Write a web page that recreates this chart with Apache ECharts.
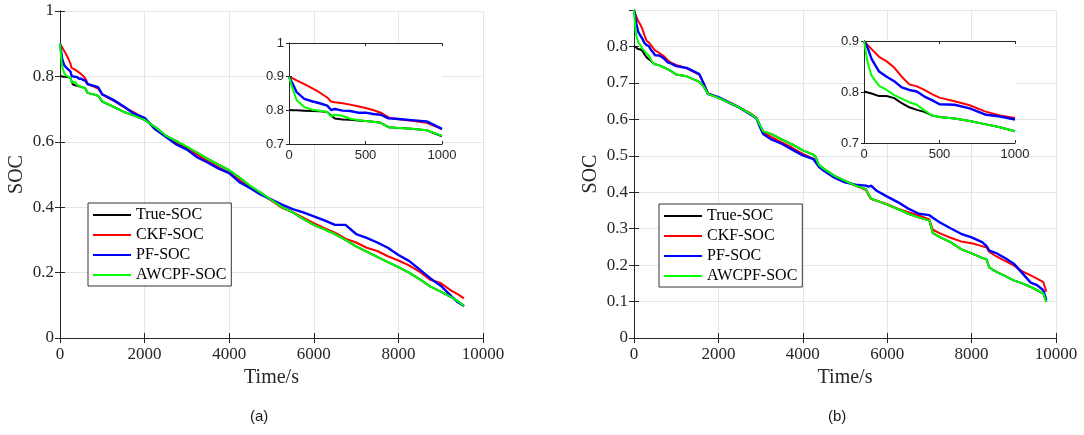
<!DOCTYPE html>
<html><head><meta charset="utf-8">
<script src="https://cdn.jsdelivr.net/npm/echarts@6/dist/echarts.min.js"></script>
<style>html,body{margin:0;padding:0;background:#fff}#c{width:1084px;height:435px}</style>
</head><body><div id="c"></div>
<script>
// ---------- data (a) ----------
const tA = [0,25,50,100,150,200,250,275,300,350,400,450,500,550,600,650,700,800,900,1000,
  1250,1500,1750,2000,2250,2500,2750,3000,3250,3500,3750,4000,4250,4500,4750,5000,5250,5500,5750,6000,
  6250,6500,6750,7000,7250,7500,7750,8000,8250,8500,8750,9000,9250,9400,9550];
const trueA = [.801,.800,.800,.799,.798,.797,.795,.785,.776,.773,.772,.770,.768,.766,.763,.750,.748,.745,.741,.723,
  .708,.692,.680,.667,.645,.619,.602,.584,.566,.547,.530,.513,.490,.464,.444,.422,.400,.384,.364,.346,
  .332,.318,.300,.280,.264,.248,.232,.217,.200,.180,.158,.142,.125,.113,.098];
const ckfA = [.900,.895,.889,.878,.866,.853,.838,.826,.824,.821,.817,.812,.807,.801,.793,.779,.774,.769,.763,.744,
  .727,.707,.690,.670,.642,.616,.597,.578,.560,.540,.522,.505,.482,.459,.441,.420,.398,.385,.368,.351,
  .336,.322,.304,.292,.276,.266,.250,.237,.222,.203,.178,.168,.145,.134,.121];
const pfA = [.900,.878,.854,.834,.827,.821,.814,.801,.804,.799,.798,.793,.793,.789,.787,.776,.775,.771,.767,.745,
  .729,.709,.686,.673,.638,.615,.592,.576,.552,.536,.518,.504,.476,.458,.438,.423,.408,.394,.384,.372,
  .360,.346,.346,.318,.306,.292,.276,.254,.236,.210,.183,.160,.128,.110,.098];
const awcpfA = [.900,.862,.830,.810,.802,.799,.795,.781,.787,.784,.775,.771,.768,.766,.763,.750,.748,.745,.741,.724,
  .708,.692,.680,.667,.645,.619,.602,.585,.566,.547,.530,.513,.490,.465,.444,.422,.400,.384,.364,.346,
  .332,.318,.300,.280,.264,.248,.232,.217,.200,.180,.158,.142,.125,.113,.098];
// ---------- data (b) ----------
const tB = [0,25,50,100,150,200,250,300,350,400,450,500,600,700,800,900,1000,
  1250,1550,1650,1750,2000,2250,2500,2750,2900,2980,3060,3250,3500,3750,4000,4250,4300,4380,4500,4750,5000,
  5250,5500,5560,5620,5750,6000,6250,6500,6750,7000,7080,7250,7500,7750,8000,8250,8350,8420,8600,8800,9000,
  9200,9400,9550,9700,9772];
const ckfB = [.900,.892,.884,.869,.860,.848,.830,.815,.811,.804,.796,.789,.782,.774,.762,.754,.749,
  .740,.722,.700,.672,.660,.648,.633,.617,.604,.585,.565,.552,.537,.522,.505,.492,.485,.472,.462,.441,.430,
  .418,.406,.392,.381,.377,.367,.355,.345,.336,.325,.297,.287,.275,.265,.260,.252,.249,.236,.223,.211,.199,
  .183,.172,.163,.153,.127];
const pfB = [.900,.886,.865,.840,.830,.821,.809,.804,.801,.791,.784,.776,.775,.768,.756,.752,.746,
  .741,.724,.698,.670,.661,.646,.632,.614,.603,.580,.560,.545,.533,.517,.501,.491,.483,.470,.459,.440,.427,
  .421,.418,.415,.418,.404,.388,.373,.355,.341,.337,.330,.317,.301,.286,.276,.263,.253,.240,.232,.219,.204,
  .178,.152,.145,.131,.104];
const awcpfB = [.900,.857,.832,.812,.804,.794,.787,.780,.775,.764,.754,.751,.748,.743,.737,.731,.723,
  .718,.703,.690,.670,.659,.646,.632,.616,.603,.585,.567,.560,.545,.531,.515,.503,.498,.475,.464,.445,.431,
  .418,.408,.393,.382,.377,.366,.354,.341,.331,.322,.288,.277,.263,.244,.232,.220,.216,.193,.181,.170,.158,
  .150,.140,.131,.122,.099];
const trueB = [.801,.799,.797,.792,.792,.788,.778,.770,.765,.761,.754,.751,.748,.743,.737,.731,.723,
  .718,.703,.690,.670,.659,.646,.632,.616,.603,.585,.567,.560,.545,.531,.515,.503,.498,.475,.464,.445,.431,
  .418,.408,.393,.382,.377,.366,.354,.341,.331,.322,.288,.277,.263,.244,.232,.220,.216,.193,.181,.170,.158,
  .150,.140,.131,.122,.099];

const names = ['True-SOC','CKF-SOC','PF-SOC','AWCPF-SOC'];
const colors = ['#000000','#ff0000','#0000ff','#00ff00'];
const widths = [2,2,2.4,2];
const setsA = [trueA, ckfA, pfA, awcpfA];
const setsB = [trueB, ckfB, pfB, awcpfB];

const SERIF = "'Liberation Serif','Times New Roman',serif";
const SANS = "'Liberation Sans',Arial,sans-serif";
const INK = '#262626';
const fmt = v => String(+v.toFixed(2));

const grids = [
  {left:60, top:11, width:423, height:327},
  {left:634, top:10, width:422, height:328},
  {left:289, top:43, width:153, height:101, show:true, backgroundColor:'#fff', borderWidth:0, z:5},
  {left:864, top:41, width:151, height:102, show:true, backgroundColor:'#fff', borderWidth:0, z:5}
];

function xPair(gi, min, max, interval, inset){
  const font = inset ? {fontFamily:SANS, fontSize:13, color:INK, margin:5}
                     : {fontFamily:SERIF, fontSize:17, color:INK, margin:8};
  const z = inset ? 6 : 1;
  const common = {type:'value', gridIndex:gi, min, max, interval, z,
    axisLine:{show:true, lineStyle:{color:INK, width:1}},
    axisTick:{show:true, inside:true, length: inset?3:5, lineStyle:{color:INK}}};
  const bottom = Object.assign({}, common, {position:'bottom',
    axisLabel:Object.assign({formatter:fmt}, font),
    splitLine:{show:!inset, lineStyle:{color:'#e6e6e6', width:1}}});
  if(!inset){ Object.assign(bottom, {name:'Time/s', nameLocation:'middle', nameGap:27,
    nameTextStyle:{fontFamily:SERIF, fontSize:20, color:INK}}); }
  const top = Object.assign({}, common, {position:'top', axisLabel:{show:false}, splitLine:{show:false}});
  return [bottom, top];
}
function yPair(gi, min, max, interval, inset, hideMax){
  const font = inset ? {fontFamily:SANS, fontSize:13, color:INK, margin:5}
                     : {fontFamily:SERIF, fontSize:17, color:INK, margin:6};
  const z = inset ? 6 : 1;
  const common = {type:'value', gridIndex:gi, min, max, interval, z,
    axisLine:{show:true, lineStyle:{color:INK, width:1}},
    axisTick:{show:true, inside:true, length: inset?3:5, lineStyle:{color:INK}}};
  const left = Object.assign({}, common, {position:'left',
    axisLabel:Object.assign({formatter:fmt, showMaxLabel: !hideMax}, font),
    splitLine:{show:!inset, lineStyle:{color:'#e6e6e6', width:1}}});
  if(!inset){ Object.assign(left, {name:'SOC', nameLocation:'middle', nameGap:33,
    nameTextStyle:{fontFamily:SERIF, fontSize:20, color:INK}}); }
  const right = Object.assign({}, common, {position:'right', axisLabel:{show:false}, splitLine:{show:false}});
  return [left, right];
}

const xAxis = [].concat(
  xPair(0, 0, 10000, 2000, false),
  xPair(1, 0, 10000, 2000, false),
  xPair(2, 0, 1000, 500, true),
  xPair(3, 0, 1000, 500, true));
const yAxis = [].concat(
  yPair(0, 0, 1, 0.2, false, false),
  yPair(1, 0, 0.9, 0.1, false, true),
  yPair(2, 0.7, 1, 0.1, true, false),
  yPair(3, 0.7, 0.9, 0.1, true, false));

function build(t, sets, axisIdx, inset){
  return sets.map((vals, k) => ({
    name: names[k], type:'line', xAxisIndex:axisIdx, yAxisIndex:axisIdx,
    data: t.map((x,i)=>[x, vals[i]]).filter(p => !inset || p[0] <= 1000),
    symbol:'none', showSymbol:false, clip:true, z: inset ? 7 + k*0.01 : 2,
    lineStyle:{color:colors[k], width:widths[k]}, itemStyle:{color:colors[k]},
    emphasis:{disabled:true}, silent:true
  }));
}
const series = [].concat(
  build(tA, setsA, 0, false),
  build(tB, setsB, 2, false),
  build(tA, setsA, 4, true),
  build(tB, setsB, 6, true));

function legend(left, top){
  return {left, top, orient:'vertical', data:names, icon:'rect', itemWidth:38, itemHeight:2,
    itemGap:4, padding:[4,5,3,5], borderColor:'#333', borderWidth:1, backgroundColor:'#fff',
    selectedMode:false, z:10,
    textStyle:{fontFamily:SERIF, fontSize:16, color:'#000', lineHeight:16}};
}

const chart = echarts.init(document.getElementById('c'), null, {renderer:'canvas'});
chart.setOption({
  animation:false,
  backgroundColor:'#fff',
  title:[
    {text:'(a)', left:250, top:409, padding:0, textStyle:{fontFamily:SANS, fontSize:15, fontWeight:'normal', color:'#1a1a1a'}},
    {text:'(b)', left:828, top:409, padding:0, textStyle:{fontFamily:SANS, fontSize:15, fontWeight:'normal', color:'#1a1a1a'}}
  ],
  legend:[legend(88,203), legend(659,204)],
  grid:grids, xAxis, yAxis, series
});
</script></body></html>
